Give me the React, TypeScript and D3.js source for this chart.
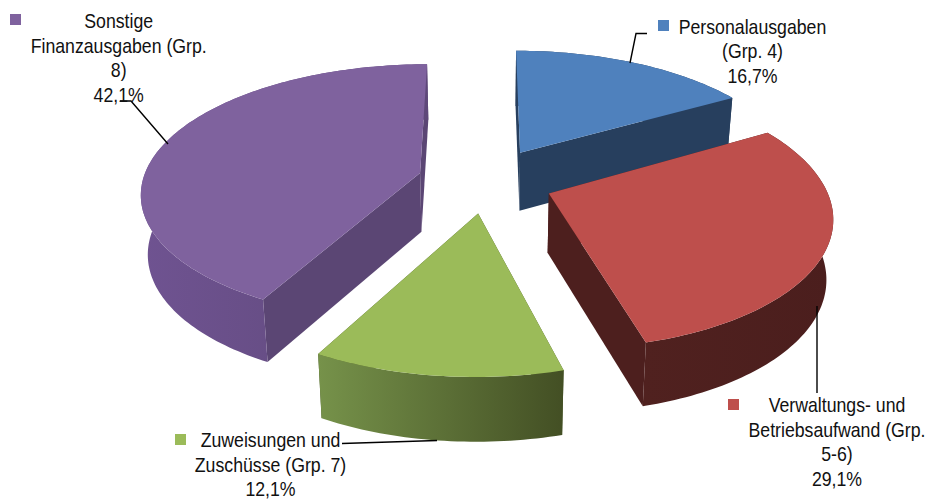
import React from "react";
import * as d3 from "d3";

const categories = ["Personalausgaben (Grp. 4)", "Verwaltungs- und Betriebsaufwand (Grp. 5-6)", "Zuweisungen und Zuschüsse (Grp. 7)", "Sonstige Finanzausgaben (Grp. 8)"];
const values = [16.7, 29.1, 12.1, 42.1];
const topColors = ["#4F81BD", "#BE4F4C", "#9BBB59", "#7F629E"];
const sideColors = ["#273F5E", "#4D1F1E", "#465426", "#5B4674"];
const rimLeft = ["#273F5E", "#50211F", "#76924A", "#6F5391"];
const rimRight = ["#273F5E", "#4B1E1D", "#434F24", "#5E4879"];
const drawOrder = [0, 3, 1, 2];

const labelLines = [
  ["Personalausgaben", "(Grp. 4)", "16,7%"],
  ["Verwaltungs- und", "Betriebsaufwand (Grp.", "5-6)", "29,1%"],
  ["Zuweisungen und", "Zuschüsse (Grp. 7)", "12,1%"],
  ["Sonstige", "Finanzausgaben (Grp.", "8)", "42,1%"],
];
const labelCenters = [752.5, 837, 270.5, 118.7];
const labelBaselines = [33.5, 412, 447, 28];
const swatches = [[658, 20], [728, 399], [175, 434], [10, 14]];
const leaders = [
  [[630, 63], [636, 33.5], [647, 33.5]],
  [[817, 306], [817, 393]],
  [[437, 440.5], [342, 443.5]],
  [[168, 144], [131, 101], [120, 101]],
];

const cx = 486, cy = 181;
const explodeX = 68, explodeY = 32.7;
// perspective of each exploded slice's rim
const radiusX = [268, 279, 286, 275];
const radiusY = [119.3, 131.4, 138, 125];
const foreshorten = [0.17, 0.154, 0.156, 0.15];
const lean = [4, 12, -2.4, -7];

const rim = (a: number, i: number): [number, number] => {
  const u = Math.sin(a), vf = -Math.cos(a), w = 1 - foreshorten[i] * vf;
  return [(radiusX[i] * u) / w + lean[i] * vf, (radiusY[i] * vf) / w];
};
const bottom = ([x, y]: [number, number]): [number, number] => [
  490 + (x - 490) * 0.98,
  y + 59 + (5 * (y - cy)) / 170,
];

const arcs = d3.pie<number>().sort(null).startAngle(0).endAngle(2 * Math.PI)(values);
const line = d3.line();

export default function App() {
  const slices = arcs.map((d, i) => {
    const mid = (d.startAngle + d.endAngle) / 2;
    const ax = cx + explodeX * Math.sin(mid);
    const ay = cy - explodeY * Math.cos(mid);
    const apex: [number, number] = [ax, ay];
    const angles = [...d3.range(d.startAngle, d.endAngle, 0.02), d.endAngle];
    const arcPts = angles.map((a) => {
      const [dx, dy] = rim(a, i);
      return [ax + dx, ay + dy] as [number, number];
    });
    const botPts = arcPts.map(bottom);
    const apexB = bottom(apex);
    const first = arcPts[0], last = arcPts[arcPts.length - 1];
    return {
      i,
      top: line([apex, ...arcPts])! + "Z",
      rimWall: line([...arcPts, ...botPts.slice().reverse()])! + "Z",
      wallA: line([apex, first, botPts[0], apexB])! + "Z",
      wallB: line([apex, last, botPts[botPts.length - 1], apexB])! + "Z",
    };
  });
  return (
    <svg width={925} height={500} style={{ position: "absolute", left: 0, top: 0 }} fontFamily="'Liberation Sans', Arial, sans-serif">
      <defs>
        {categories.map((_, i) => (
          <linearGradient id={`rim${i}`} key={i} x1="0" x2="1" y1="0" y2="0">
            <stop offset="0" stopColor={rimLeft[i]} />
            <stop offset="1" stopColor={rimRight[i]} />
          </linearGradient>
        ))}
      </defs>
      <rect width={925} height={500} fill="#fff" />
      {drawOrder.map((idx) => {
        const s = slices[idx];
        return (
          <g key={idx}>
            <path d={s.wallA} fill={sideColors[idx]} />
            <path d={s.wallB} fill={sideColors[idx]} />
            <path d={s.rimWall} fill={`url(#rim${idx})`} />
            <path d={s.top} fill={topColors[idx]} />
          </g>
        );
      })}
      {leaders.map((pts, i) => (
        <path key={i} d={line(pts as [number, number][])!} fill="none" stroke="#000" strokeWidth={1.4} />
      ))}
      {swatches.map(([x, y], i) => (
        <rect key={i} x={x} y={y} width={11} height={11} fill={topColors[i]} />
      ))}
      {labelLines.map((lines, i) =>
        lines.map((t, j) => (
          <text
            key={j}
            transform={`translate(${labelCenters[i]},${labelBaselines[i] + j * 24.5}) scale(0.885,1)`}
            textAnchor="middle"
            fontSize={20}
            fill="#111"
          >
            {t}
          </text>
        ))
      )}
    </svg>
  );
}
